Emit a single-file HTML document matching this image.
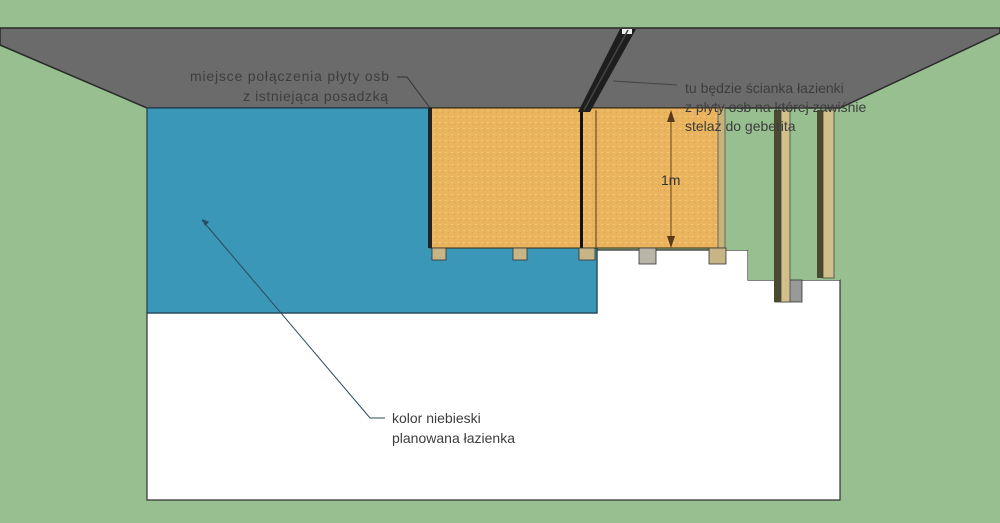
<!DOCTYPE html>
<html><head><meta charset="utf-8"><style>
html,body{margin:0;padding:0;background:#97bf8f;}
svg{display:block}
text{font-family:"Liberation Sans",sans-serif;font-size:14px;}
</style></head><body>
<svg width="1000" height="523" viewBox="0 0 1000 523" xmlns="http://www.w3.org/2000/svg">
<defs>
<pattern id="osb" width="6" height="6" patternUnits="userSpaceOnUse">
<rect width="6" height="6" fill="#eab35e"/>
<rect x="1" y="2" width="2" height="1" fill="#f4c97a"/>
<rect x="4" y="4" width="1" height="1" fill="#d9a04e"/>
</pattern>
</defs>
<rect width="1000" height="523" fill="#97bf8f"/>
<polygon points="0,28 1000,28 1000,33 840,108 147,108 0,45" fill="#6b6b6b" stroke="#2a2a2a" stroke-width="1.5"/>
<polygon points="147,313 597,313 597,250 748,250 748,280 840,280 840,500 147,500" fill="#ffffff" stroke="#333" stroke-width="1.2"/>
<rect x="147" y="108" width="450" height="205" fill="#3a97b8" stroke="#1e3e4e" stroke-width="1.2"/>
<rect x="725" y="112" width="115" height="138" fill="#97bf8f"/>
<rect x="748" y="250" width="92" height="30" fill="#97bf8f"/>
<rect x="430" y="108" width="292" height="140" fill="url(#osb)" stroke="#3a2a10" stroke-width="1"/>
<rect x="428" y="108" width="4" height="140" fill="#222"/>
<rect x="580" y="110" width="3" height="138" fill="#111"/>
<line x1="596" y1="110" x2="596" y2="248" stroke="#4a3a1a" stroke-width="1"/>
<rect x="718" y="108" width="7" height="140" fill="#c8b27a" stroke="#555" stroke-width="0.8"/>
<g stroke="#333" stroke-width="0.8">
<rect x="432" y="248" width="14" height="12" fill="#c8b585"/>
<rect x="513" y="248" width="14" height="12" fill="#c8b585"/>
<rect x="579" y="248" width="16" height="12" fill="#c8b585"/>
<rect x="639" y="248" width="17" height="16" fill="#b9b6a8"/>
<rect x="709" y="248" width="17" height="16" fill="#c8b585"/>
<rect x="775" y="280" width="27" height="22" fill="#999"/>
</g>
<rect x="774" y="110" width="8" height="192" fill="#4a4a30"/>
<rect x="781" y="110" width="9" height="192" fill="#d2c08a" stroke="#444" stroke-width="0.8"/>
<rect x="817" y="110" width="7" height="168" fill="#4a4a30"/>
<rect x="823" y="110" width="11" height="168" fill="#d2c08a" stroke="#444" stroke-width="0.8"/>
<polygon points="620,29 636,29 590,112 578,112" fill="#1e1e1e"/>
<polygon points="622,29 632,29 632,34 622,34" fill="#eee"/>
<line x1="628" y1="30" x2="584" y2="110" stroke="#444" stroke-width="1.5"/>
<line x1="671" y1="112" x2="671" y2="244" stroke="#6b4a1a" stroke-width="1"/>
<polygon points="667,122 671,110 675,122" fill="#5a3a1a"/>
<polygon points="667,236 671,248 675,236" fill="#5a3a1a"/>
<text x="661" y="185" fill="#333">1m</text>
<text x="190" y="81" textLength="199" fill="#3d3d3d">miejsce połączenia płyty osb</text>
<text x="243" y="101" textLength="145" fill="#3d3d3d">z istniejąca posadzką</text>
<polyline points="397,77 407,77 430,108" fill="none" stroke="#333" stroke-width="1"/>
<polyline points="677,85 613,81" fill="none" stroke="#444" stroke-width="1"/>
<text x="685" y="93" fill="#3d3d3d">tu będzie ścianka łazienki</text>
<text x="685" y="112" fill="#3d3d3d">z płyty osb na której zawiśnie</text>
<text x="685" y="131" fill="#3d3d3d">stelaż do geberita</text>
<polyline points="385,418 370,418 202,220" fill="none" stroke="#2a4a5a" stroke-width="1"/>
<polygon points="202,219 209,222 205,226" fill="#2a4a5a"/>
<text x="392" y="423" fill="#3d3d3d">kolor niebieski</text>
<text x="392" y="443" fill="#3d3d3d">planowana łazienka</text>
</svg>
</body></html>
